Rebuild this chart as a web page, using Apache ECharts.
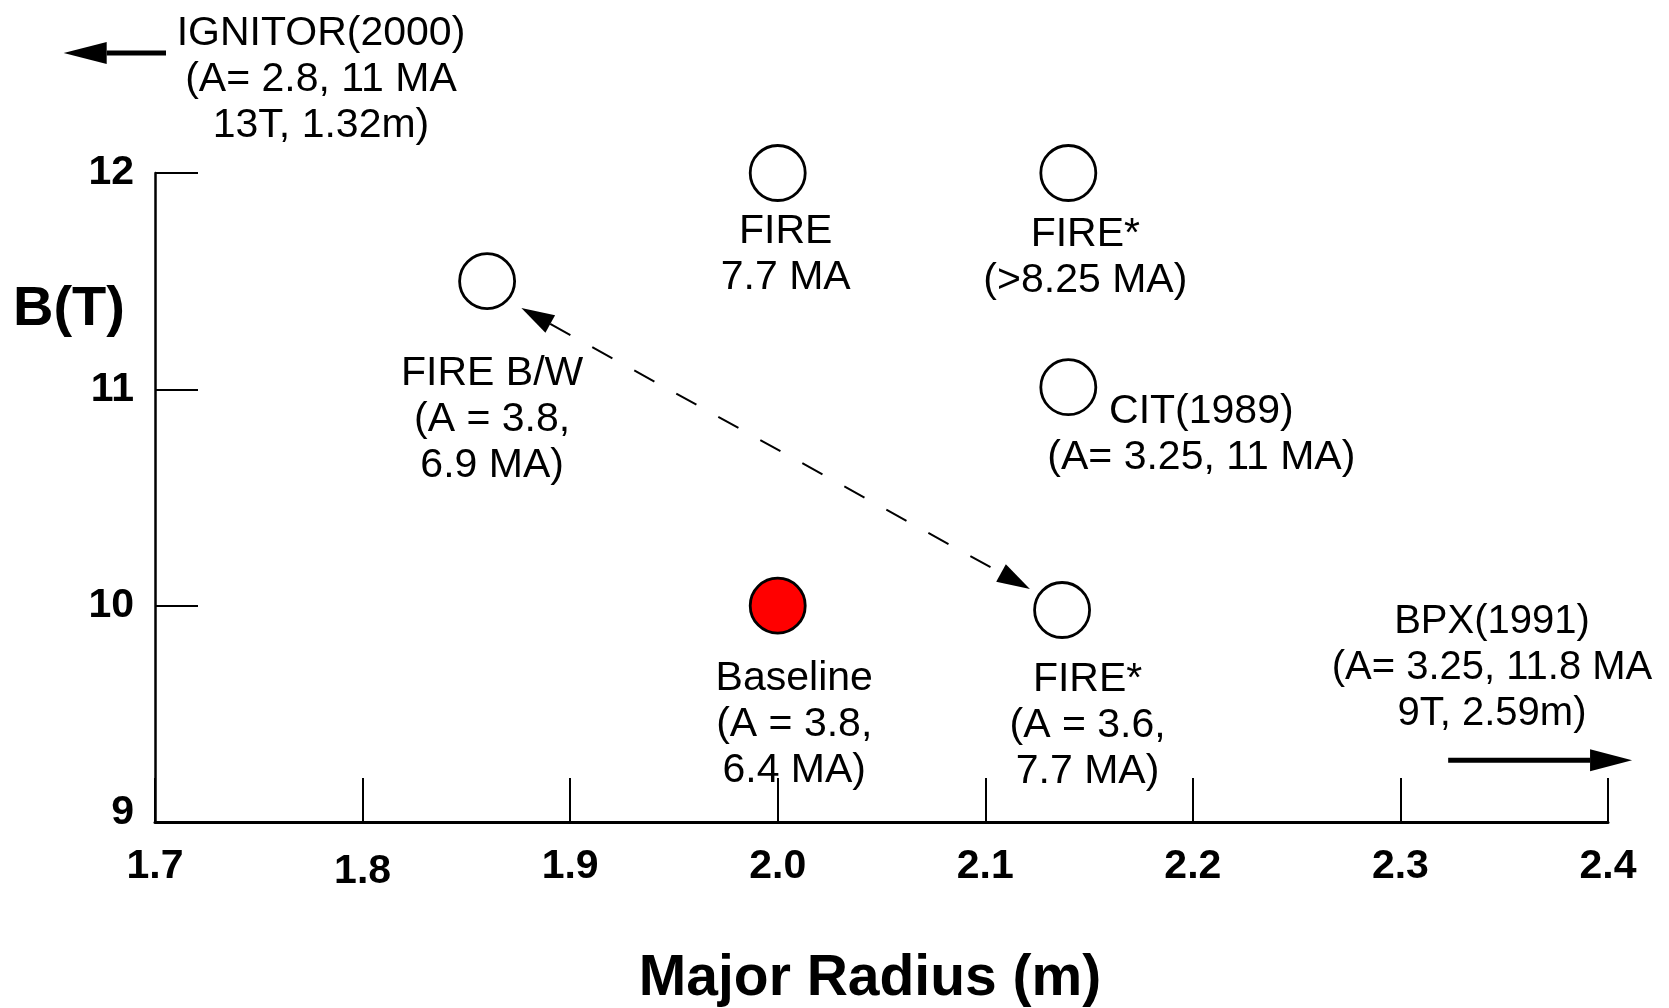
<!DOCTYPE html>
<html>
<head>
<meta charset="utf-8">
<title>B(T) vs Major Radius</title>
<script src="https://cdn.jsdelivr.net/npm/echarts@6/dist/echarts.min.js"></script>
<style>
html,body{margin:0;padding:0;background:#fff;}
#chart{width:1669px;height:1008px;}
</style>
</head>
<body>
<div id="chart"></div>
<script>
// 各装置的数据点
var pointNames = ['FIRE B/W', 'FIRE', 'FIRE*', 'CIT(1989)', 'Baseline', 'FIRE*'];
var radiusVals = [1.86, 2.0, 2.14, 2.14, 2.0, 2.137];
var fieldVals = [11.5, 12, 12, 11.01, 10, 9.98];
var pointTexts = [
    'FIRE B/W\n(A = 3.8,\n6.9 MA)',
    'FIRE\n7.7 MA',
    'FIRE*\n(>8.25 MA)',
    'CIT(1989)\n(A= 3.25, 11 MA)',
    'Baseline\n(A = 3.8,\n6.4 MA)',
    'FIRE*\n(A = 3.6,\n7.7 MA)'
];
// 刻度
var xTicks = [1.7, 1.8, 1.9, 2.0, 2.1, 2.2, 2.3, 2.4];
var yTicks = [9, 10, 11, 12];
// 虚线双箭头 FIRE B/W <-> FIRE*
var dashArrow = [[1.8765, 11.376], [2.1215, 10.077]];
// 图外的两台装置，箭头指向图外
var ignitorArrow = [[1.7053, 12.555], [1.656, 12.555]];
var bpxArrow = [[2.323, 9.286], [2.4116, 9.286]];
var ignitorText = 'IGNITOR(2000)\n(A= 2.8, 11 MA\n13T, 1.32m)';
var bpxText = 'BPX(1991)\n(A= 3.25, 11.8 MA\n9T, 2.59m)';

// 标签相对圆心的偏移（样式）
var labelOffsets = [[5, 139], [8, 81.5], [17, 84.5], [133, 48], [16.5, 119.5], [25.5, 116]];
var FONT = '"Liberation Sans", Arial, Helvetica, sans-serif';

var chart = echarts.init(document.getElementById('chart'));

var option = {
    animation: false,
    backgroundColor: '#fff',
    grid: { left: 155, right: 61, top: 173, bottom: 186 },
    xAxis: {
        type: 'value',
        min: 1.7,
        max: 2.4,
        interval: 0.1,
        axisLine: { show: true, onZero: false, lineStyle: { color: '#000', width: 3 } },
        axisTick: { show: true, inside: true, length: 44, customValues: xTicks, lineStyle: { color: '#000', width: 2 } },
        splitLine: { show: false },
        axisLabel: {
            customValues: xTicks,
            margin: 24,
            color: '#000',
            fontSize: 41,
            fontWeight: 'bold',
            fontFamily: FONT,
            formatter: function (v) {
                var s = v.toFixed(1);
                return s === '1.8' ? '{low|' + s + '}' : s;
            },
            rich: {
                low: { padding: [5, 0, 0, 0], fontSize: 41, fontWeight: 'bold', fontFamily: FONT, color: '#000' }
            }
        }
    },
    yAxis: {
        type: 'value',
        min: 9,
        max: 12,
        interval: 1,
        axisLine: { show: true, onZero: false, lineStyle: { color: '#000', width: 2.5 } },
        axisTick: { show: true, inside: true, length: 43, customValues: yTicks, lineStyle: { color: '#000', width: 2 } },
        splitLine: { show: false },
        axisLabel: {
            customValues: yTicks,
            margin: 21,
            color: '#000',
            fontSize: 41,
            fontWeight: 'bold',
            fontFamily: FONT,
            formatter: function (v) {
                return v === 9 ? '{up|9}' : String(v);
            },
            rich: {
                up: { padding: [0, 0, 18, 0], fontSize: 41, fontWeight: 'bold', fontFamily: FONT, color: '#000' }
            }
        }
    },
    series: [{
        type: 'scatter',
        symbol: 'circle',
        symbolSize: 55,
        silent: true,
        clip: false,
        z: 3,
        itemStyle: { borderColor: '#000', borderWidth: 2.8, opacity: 1 },
        label: {
            show: true,
            position: 'inside',
            align: 'center',
            verticalAlign: 'middle',
            color: '#000',
            fontSize: 41,
            lineHeight: 46,
            fontFamily: FONT,
            textBorderWidth: 0,
            textBorderColor: 'transparent',
            formatter: function (p) { return pointTexts[p.dataIndex]; }
        },
        data: radiusVals.map(function (r, i) {
            return {
                name: pointNames[i],
                value: [r, fieldVals[i]],
                itemStyle: { color: pointNames[i] === 'Baseline' ? '#ff0000' : '#ffffff' },
                label: { offset: labelOffsets[i] }
            };
        })
    }]
};
chart.setOption(option);

// 箭头：p0 尾, p1 尖
function toPx(p) {
    return chart.convertToPixel({ gridIndex: 0 }, p);
}
function head(tip, from, len, hw) {
    var dx = tip[0] - from[0], dy = tip[1] - from[1];
    var d = Math.sqrt(dx * dx + dy * dy);
    var ux = dx / d, uy = dy / d;
    var bx = tip[0] - ux * len, by = tip[1] - uy * len;
    return {
        base: [bx, by],
        poly: { type: 'polygon', silent: true, z: 10, shape: { points: [tip, [bx - uy * hw, by + ux * hw], [bx + uy * hw, by - ux * hw]] }, style: { fill: '#000' } }
    };
}
function solidArrow(a, len, hw, w) {
    var p0 = toPx(a[0]), p1 = toPx(a[1]);
    var h = head(p1, p0, len, hw);
    return [
        { type: 'line', silent: true, z: 10, shape: { x1: p0[0], y1: p0[1], x2: h.base[0], y2: h.base[1] }, style: { stroke: '#000', lineWidth: w } },
        h.poly
    ];
}
function dashedArrow(a, len, hw, w) {
    var p0 = toPx(a[0]), p1 = toPx(a[1]);
    var h0 = head(p0, p1, len, hw);
    var h1 = head(p1, p0, len, hw);
    return [
        { type: 'line', silent: true, z: 10, shape: { x1: h0.base[0], y1: h0.base[1], x2: h1.base[0], y2: h1.base[1] }, style: { stroke: '#000', lineWidth: w, lineDash: [23, 25] } },
        h0.poly, h1.poly
    ];
}

var graphics = [];
graphics = graphics.concat(dashedArrow(dashArrow, 33, 10, 2));
graphics = graphics.concat(solidArrow(ignitorArrow, 43, 11, 5));
graphics = graphics.concat(solidArrow(bpxArrow, 42, 11, 5));
graphics.push({
    type: 'text', silent: true, z: 10,
    style: { text: ignitorText, x: 321, y: 80, align: 'center', verticalAlign: 'middle', fill: '#000', fontSize: 41, lineHeight: 46, fontFamily: FONT }
});
graphics.push({
    type: 'text', silent: true, z: 10,
    style: { text: bpxText, x: 1492, y: 668, align: 'center', verticalAlign: 'middle', fill: '#000', fontSize: 40, lineHeight: 46, fontFamily: FONT }
});
graphics.push({
    type: 'text', silent: true, z: 10,
    style: { text: 'B(T)', x: 69, y: 310, align: 'center', verticalAlign: 'middle', fill: '#000', fontSize: 56, fontWeight: 'bold', fontFamily: FONT }
});
graphics.push({
    type: 'text', silent: true, z: 10,
    style: { text: 'Major Radius (m)', x: 870, y: 979, align: 'center', verticalAlign: 'middle', fill: '#000', fontSize: 57, fontWeight: 'bold', fontFamily: FONT }
});
chart.setOption({ graphic: graphics });
</script>
</body>
</html>
